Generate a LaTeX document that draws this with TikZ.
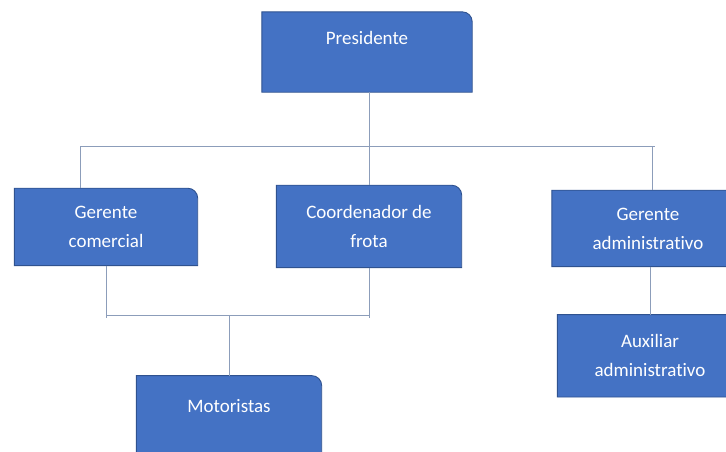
\documentclass[tikz,border=0pt]{standalone}
\usepackage{fontspec}
\setmainfont{Carlito}[Ligatures=CommonOff]
\usetikzlibrary{positioning}
\usetikzlibrary{backgrounds}
\definecolor{BoxBlue}{HTML}{4472C4}
\definecolor{BoxEdge}{HTML}{2F528F}
\definecolor{LineGrey}{HTML}{8C9DBA}

\tikzset{
  orgbox/.style={minimum width=185pt, minimum height=80pt, inner sep=0pt, text=white,
    align=center, font=\fontsize{19pt}{29pt}\selectfont},
  orgline/.style={LineGrey, line width=1pt},
  orgshape/.style={fill=BoxBlue, draw=BoxEdge, line width=0.9pt}
}

\begin{document}
\begin{tikzpicture}[x=1pt,y=-1pt]
        \useasboundingbox (0,0) rectangle (726,451);
        % blue boxes
        \node[orgbox, minimum width=210pt] (pres) at (367,52) {Presidente\\\mbox{}};
        \node[orgbox, below=93pt of pres, xshift=2pt, minimum height=82pt] (coord) {Coordenador de\\frota};
        \node[orgbox, below=96pt of pres, xshift=-261pt, minimum width=183pt, minimum height=77pt] (gcom) {Gerente\\comercial};
        \node[orgbox, below=98pt of pres, xshift=281pt, minimum width=192pt, minimum height=76pt] (gadm) {Gerente\\administrativo};
        \node[orgbox, below=110pt of gcom, xshift=123pt, text depth=20pt] (motor) {Motoristas};
        \node[orgbox, below=48pt of gadm, xshift=2pt, minimum height=82pt] (aux) {Auxiliar\\administrativo};

        % box outlines, top right corner rounded
        \begin{scope}[on background layer]
          \foreach \n in {pres,coord,gcom,gadm,motor,aux}
            \draw[orgshape] (\n.south west) -- (\n.north west) -- ([xshift=-10pt]\n.north east)
              to[out=0,in=90] ([yshift=-10pt]\n.north east) -- (\n.south east) -- cycle;
        \end{scope}

        % edges
        \coordinate (busL) at (80,146);
        \coordinate (busR) at (655,146);
        \coordinate (lowL) at (106,315);
        \coordinate (lowR) at (369,315);
        \draw[orgline] (coord.north |- pres.south) -- (coord.north);
        \draw[orgline] (busL) -- (busR);
        \draw[orgline] (busL) -- (busL |- gcom.north);
        \draw[orgline] ([xshift=-3pt]busR) -- ([xshift=-3pt]busR |- gadm.north);
        \draw[orgline] (lowL |- gcom.south) -- ([yshift=-3pt]lowL);
        \draw[orgline] (lowR |- coord.south) -- ([yshift=-3pt]lowR);
        \draw[orgline] (lowL) -- (lowR);
        \draw[orgline] (motor.north |- lowL) -- (motor.north);
        \draw[orgline] (aux.north |- gadm.south) -- (aux.north);
\end{tikzpicture}
\end{document}
